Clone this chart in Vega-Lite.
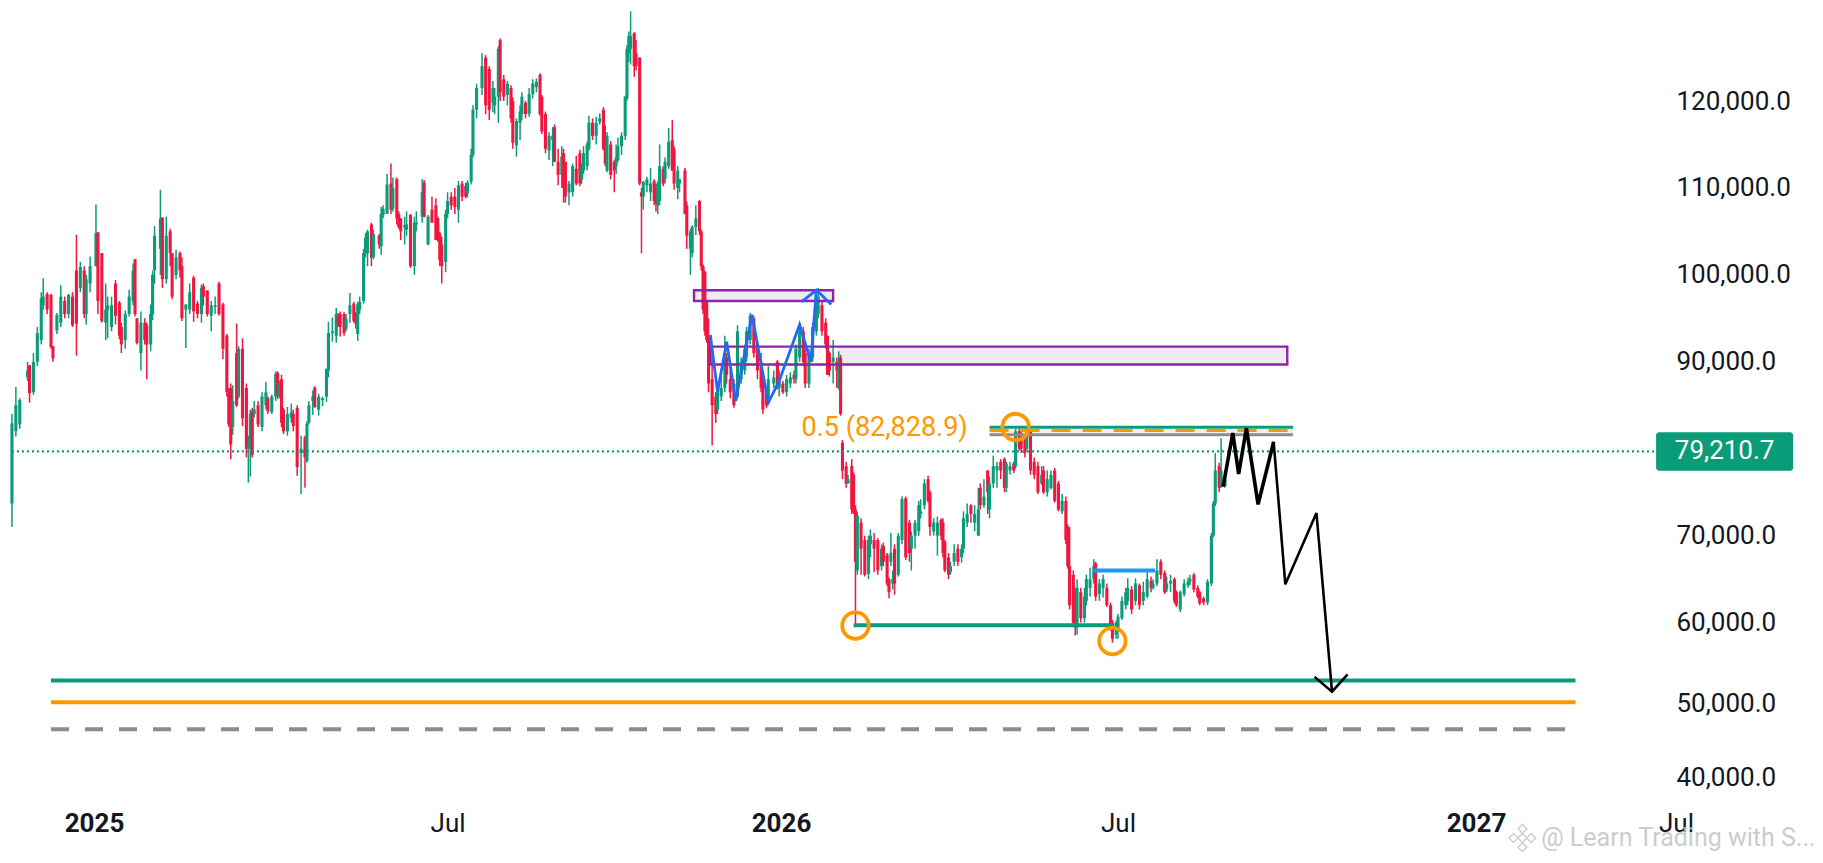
{
"$schema":"https://vega.github.io/schema/vega-lite/v6.json",
"width":1823,"height":863,"padding":0,"autosize":"none","background":"#ffffff",
"config":{"view":{"stroke":null},"text":{"font":"Roboto"},"axis":{"labelFont":"Roboto"}},
"datasets":{
"candles":[
{"t":"2024-11-20","o":73700,"h":84000,"l":71000,"c":82900},{"t":"2024-11-22","o":82000,"h":87100,"l":81400,"c":85000},{"t":"2024-11-24","o":82800,"h":85800,"l":82300,"c":85600},{"t":"2024-11-28","o":88200,"h":90000,"l":87800,"c":89000},{"t":"2024-11-29","o":89600,"h":89600,"l":85300,"c":86400},{"t":"2024-12-01","o":86500,"h":91000,"l":86200,"c":90000},{"t":"2024-12-03","o":90000,"h":94000,"l":89500,"c":93300},{"t":"2024-12-05","o":92500,"h":98000,"l":92000,"c":97300},{"t":"2024-12-06","o":96500,"h":99600,"l":96000,"c":97500},{"t":"2024-12-08","o":97800,"h":98000,"l":95500,"c":96000},{"t":"2024-12-10","o":97700,"h":97800,"l":91500,"c":91700},{"t":"2024-12-11","o":91800,"h":91800,"l":90000,"c":90400},{"t":"2024-12-13","o":93600,"h":95600,"l":93200,"c":95400},{"t":"2024-12-15","o":94500,"h":98800,"l":94000,"c":97500},{"t":"2024-12-17","o":97000,"h":97500,"l":95000,"c":95500},{"t":"2024-12-19","o":95500,"h":97800,"l":95000,"c":97700},{"t":"2024-12-21","o":97500,"h":98000,"l":94000,"c":94200},{"t":"2024-12-23","o":100500,"h":104600,"l":90700,"c":94400},{"t":"2024-12-25","o":98500,"h":101500,"l":98000,"c":100900},{"t":"2024-12-27","o":100500,"h":101000,"l":95000,"c":95500},{"t":"2024-12-28","o":95500,"h":100000,"l":94300,"c":99500},{"t":"2024-12-30","o":99000,"h":102100,"l":98000,"c":101000},{"t":"2025-01-02","o":101000,"h":108100,"l":101000,"c":104800},{"t":"2025-01-03","o":104900,"h":104900,"l":95500,"c":97000},{"t":"2025-01-05","o":102500,"h":102500,"l":94500,"c":94700},{"t":"2025-01-07","o":94500,"h":99000,"l":92500,"c":96000},{"t":"2025-01-08","o":96000,"h":97500,"l":92700,"c":96500},{"t":"2025-01-10","o":94000,"h":97500,"l":93500,"c":96500},{"t":"2025-01-12","o":99000,"h":99400,"l":94300,"c":95300},{"t":"2025-01-14","o":96800,"h":97000,"l":92600,"c":93000},{"t":"2025-01-15","o":94000,"h":94500,"l":91000,"c":92000},{"t":"2025-01-17","o":92500,"h":95900,"l":91500,"c":95500},{"t":"2025-01-19","o":95500,"h":98300,"l":95200,"c":97500},{"t":"2025-01-21","o":97000,"h":101300,"l":96500,"c":100500},{"t":"2025-01-22","o":101800,"h":101800,"l":95200,"c":95500},{"t":"2025-01-23","o":95000,"h":95000,"l":92000,"c":92200},{"t":"2025-01-25","o":91000,"h":95800,"l":89000,"c":94500},{"t":"2025-01-27","o":94500,"h":95000,"l":92000,"c":92500},{"t":"2025-01-28","o":94200,"h":94500,"l":88000,"c":92000},{"t":"2025-01-30","o":92000,"h":96600,"l":91200,"c":95500},{"t":"2025-01-31","o":95500,"h":100500,"l":94800,"c":100000},{"t":"2025-02-01","o":100500,"h":105600,"l":99000,"c":104500},{"t":"2025-02-04","o":103000,"h":109800,"l":100000,"c":106500},{"t":"2025-02-05","o":106600,"h":106600,"l":98500,"c":99500},{"t":"2025-02-07","o":99500,"h":106700,"l":99000,"c":104500},{"t":"2025-02-09","o":105000,"h":105300,"l":101000,"c":102500},{"t":"2025-02-10","o":102500,"h":102500,"l":97200,"c":97500},{"t":"2025-02-12","o":100000,"h":102900,"l":99500,"c":102000},{"t":"2025-02-14","o":102500,"h":102700,"l":99700,"c":100500},{"t":"2025-02-15","o":101000,"h":102000,"l":94700,"c":95000},{"t":"2025-02-17","o":96000,"h":96600,"l":91600,"c":96600},{"t":"2025-02-19","o":96000,"h":99000,"l":95500,"c":98000},{"t":"2025-02-21","o":99700,"h":99900,"l":94600,"c":95800},{"t":"2025-02-23","o":96700,"h":97000,"l":95000,"c":95500},{"t":"2025-02-25","o":95500,"h":98900,"l":94500,"c":98500},{"t":"2025-02-26","o":98700,"h":99000,"l":96500,"c":97500},{"t":"2025-02-28","o":98200,"h":98200,"l":95200,"c":95500},{"t":"2025-03-02","o":95300,"h":97000,"l":93500,"c":96500},{"t":"2025-03-04","o":96300,"h":97500,"l":95500,"c":96500},{"t":"2025-03-06","o":99000,"h":99200,"l":95300,"c":95500},{"t":"2025-03-08","o":96600,"h":96800,"l":90300,"c":91500},{"t":"2025-03-10","o":93000,"h":93200,"l":86000,"c":86500},{"t":"2025-03-11","o":86500,"h":87000,"l":82500,"c":82800},{"t":"2025-03-12","o":87000,"h":87500,"l":78800,"c":80500},{"t":"2025-03-13","o":82500,"h":87300,"l":81600,"c":85500},{"t":"2025-03-15","o":91000,"h":94400,"l":84800,"c":85000},{"t":"2025-03-16","o":86000,"h":91800,"l":85800,"c":91500},{"t":"2025-03-18","o":91500,"h":92700,"l":82600,"c":83500},{"t":"2025-03-20","o":87000,"h":87500,"l":79000,"c":80000},{"t":"2025-03-21","o":80000,"h":81500,"l":76100,"c":80500},{"t":"2025-03-22","o":80500,"h":84500,"l":76800,"c":84000},
{"t":"2025-03-23","o":84300,"h":84700,"l":79000,"c":79300},{"t":"2025-03-24","o":84000,"h":85500,"l":83600,"c":84500},{"t":"2025-03-26","o":85000,"h":85500,"l":82500,"c":82800},{"t":"2025-03-28","o":82500,"h":86500,"l":82000,"c":86000},{"t":"2025-03-30","o":85000,"h":87700,"l":84500,"c":86500},{"t":"2025-03-31","o":85800,"h":86000,"l":84000,"c":84300},{"t":"2025-04-02","o":84200,"h":86200,"l":84000,"c":86000},{"t":"2025-04-04","o":86000,"h":88900,"l":85500,"c":88600},{"t":"2025-04-05","o":88700,"h":88900,"l":85700,"c":86300},{"t":"2025-04-06","o":86000,"h":87800,"l":85800,"c":87600},{"t":"2025-04-07","o":88000,"h":88500,"l":82500,"c":83000},{"t":"2025-04-08","o":84500,"h":84700,"l":81700,"c":82000},{"t":"2025-04-10","o":82000,"h":84800,"l":81500,"c":84000},{"t":"2025-04-12","o":83500,"h":85200,"l":83000,"c":84200},{"t":"2025-04-13","o":84000,"h":84500,"l":82000,"c":82600},{"t":"2025-04-15","o":84700,"h":85000,"l":76900,"c":77900},{"t":"2025-04-17","o":79500,"h":81500,"l":74800,"c":80000},{"t":"2025-04-19","o":81300,"h":81500,"l":75500,"c":79000},{"t":"2025-04-20","o":78600,"h":83200,"l":78400,"c":82900},{"t":"2025-04-21","o":83000,"h":85500,"l":82800,"c":85000},{"t":"2025-04-23","o":85500,"h":86700,"l":83900,"c":86000},{"t":"2025-04-24","o":87000,"h":87200,"l":84700,"c":84800},{"t":"2025-04-26","o":84500,"h":86300,"l":83800,"c":86000},{"t":"2025-04-28","o":85600,"h":86000,"l":84900,"c":85800},{"t":"2025-04-30","o":86000,"h":89200,"l":85400,"c":89200},{"t":"2025-05-01","o":89000,"h":94600,"l":88200,"c":93300},{"t":"2025-05-03","o":93300,"h":95100,"l":92300,"c":93500},{"t":"2025-05-05","o":93000,"h":96200,"l":92200,"c":95500},{"t":"2025-05-06","o":95200,"h":95600,"l":94000,"c":94300},{"t":"2025-05-07","o":95500,"h":95800,"l":92900,"c":94000},{"t":"2025-05-09","o":95500,"h":95700,"l":93000,"c":93300},{"t":"2025-05-10","o":93800,"h":95500,"l":93500,"c":95000},{"t":"2025-05-12","o":95500,"h":97900,"l":94500,"c":96500},{"t":"2025-05-14","o":96700,"h":96900,"l":94500,"c":94700},{"t":"2025-05-15","o":95500,"h":95700,"l":93800,"c":94400},{"t":"2025-05-16","o":93200,"h":96900,"l":92400,"c":96600},{"t":"2025-05-17","o":96000,"h":97500,"l":95500,"c":96900},{"t":"2025-05-19","o":97000,"h":103000,"l":96700,"c":102500},{"t":"2025-05-20","o":102500,"h":104800,"l":102000,"c":104300},{"t":"2025-05-21","o":102500,"h":105200,"l":101000,"c":105000},{"t":"2025-05-23","o":105800,"h":106000,"l":101000,"c":102000},{"t":"2025-05-24","o":102000,"h":105200,"l":101800,"c":104700},{"t":"2025-05-27","o":104500,"h":104700,"l":103000,"c":103500},{"t":"2025-05-28","o":103300,"h":107800,"l":102300,"c":107000},{"t":"2025-05-29","o":106900,"h":108000,"l":106500,"c":107600},{"t":"2025-05-31","o":107000,"h":111600,"l":107000,"c":110400},{"t":"2025-06-02","o":110500,"h":112800,"l":107000,"c":107500},{"t":"2025-06-03","o":107600,"h":111200,"l":107300,"c":110000},{"t":"2025-06-05","o":111000,"h":111200,"l":105800,"c":106500},{"t":"2025-06-06","o":107000,"h":107300,"l":105300,"c":105500},{"t":"2025-06-07","o":106500,"h":106500,"l":104000,"c":105000},{"t":"2025-06-09","o":105500,"h":106700,"l":103500,"c":105700},{"t":"2025-06-10","o":105200,"h":107300,"l":104500,"c":105800},{"t":"2025-06-12","o":106900,"h":107000,"l":100800,"c":101000},{"t":"2025-06-14","o":101000,"h":106700,"l":100000,"c":106000},{"t":"2025-06-15","o":105800,"h":107300,"l":105000,"c":106000},{"t":"2025-06-18","o":106700,"h":111000,"l":106000,"c":109500},{"t":"2025-06-19","o":110600,"h":110900,"l":106600,"c":106700},{"t":"2025-06-21","o":103500,"h":106900,"l":103400,"c":106700},{"t":"2025-06-23","o":107500,"h":109000,"l":106000,"c":106000},{"t":"2025-06-25","o":108000,"h":108800,"l":104000,"c":104000},{"t":"2025-06-26","o":106500,"h":106700,"l":103800,"c":104000},{"t":"2025-06-27","o":104800,"h":104900,"l":101000,"c":101700},{"t":"2025-06-28","o":103500,"h":104400,"l":99000,"c":101000},{"t":"2025-06-30","o":101500,"h":107500,"l":100300,"c":107000},{"t":"2025-07-01","o":107000,"h":109500,"l":106500,"c":108500},{"t":"2025-07-03","o":109000,"h":109500,"l":107500,"c":108000},{"t":"2025-07-05","o":109000,"h":110000,"l":107000,"c":107800},{"t":"2025-07-07","o":107500,"h":110800,"l":106000,"c":110300},{"t":"2025-07-09","o":110500,"h":110800,"l":108500,"c":109000},{"t":"2025-07-11","o":110200,"h":110600,"l":108800,"c":109000},{"t":"2025-07-12","o":109400,"h":110900,"l":108900,"c":110600},{"t":"2025-07-14","o":110700,"h":114500,"l":110400,"c":113800},{"t":"2025-07-15","o":113800,"h":119500,"l":113500,"c":119000},{"t":"2025-07-17","o":119000,"h":122000,"l":118000,"c":121500},
{"t":"2025-07-20","o":121500,"h":125500,"l":120700,"c":124000},{"t":"2025-07-22","o":125000,"h":125300,"l":118500,"c":119500},{"t":"2025-07-24","o":123700,"h":124000,"l":117800,"c":119000},{"t":"2025-07-26","o":119800,"h":122300,"l":118700,"c":121500},{"t":"2025-07-27","o":119500,"h":121500,"l":118500,"c":120500},{"t":"2025-07-29","o":120500,"h":126300,"l":117500,"c":126000},{"t":"2025-07-30","o":127000,"h":127200,"l":120000,"c":121000},{"t":"2025-08-01","o":122500,"h":123000,"l":120000,"c":120500},{"t":"2025-08-03","o":120700,"h":122300,"l":119500,"c":122000},{"t":"2025-08-05","o":121500,"h":121800,"l":117500,"c":118000},{"t":"2025-08-06","o":120000,"h":120400,"l":114500,"c":115200},{"t":"2025-08-08","o":114900,"h":118000,"l":113600,"c":117700},{"t":"2025-08-10","o":117500,"h":119500,"l":115500,"c":118800},{"t":"2025-08-11","o":118500,"h":121000,"l":117800,"c":120500},{"t":"2025-08-13","o":119800,"h":120000,"l":118000,"c":118500},{"t":"2025-08-15","o":118500,"h":121500,"l":118200,"c":120800},{"t":"2025-08-17","o":120800,"h":122500,"l":120300,"c":122000},{"t":"2025-08-19","o":121600,"h":122600,"l":121000,"c":122200},{"t":"2025-08-21","o":123000,"h":123200,"l":118300,"c":118500},{"t":"2025-08-22","o":120500,"h":120700,"l":116200,"c":116500},{"t":"2025-08-24","o":118500,"h":118800,"l":114000,"c":114500},{"t":"2025-08-26","o":114300,"h":116400,"l":113200,"c":116000},{"t":"2025-08-28","o":115500,"h":117000,"l":112500,"c":116000},{"t":"2025-08-29","o":117000,"h":117300,"l":113000,"c":113000},{"t":"2025-08-31","o":113000,"h":114500,"l":110300,"c":111500},{"t":"2025-09-02","o":111500,"h":114800,"l":110000,"c":113600},{"t":"2025-09-03","o":114000,"h":114500,"l":108300,"c":110000},{"t":"2025-09-04","o":113000,"h":113000,"l":108300,"c":109000},{"t":"2025-09-06","o":109500,"h":110800,"l":108000,"c":110500},{"t":"2025-09-08","o":109500,"h":112800,"l":109000,"c":112500},{"t":"2025-09-10","o":112200,"h":113700,"l":110300,"c":110500},{"t":"2025-09-12","o":114000,"h":114400,"l":110200,"c":110500},{"t":"2025-09-13","o":111000,"h":112800,"l":110500,"c":112500},{"t":"2025-09-14","o":112000,"h":114800,"l":111600,"c":114000},{"t":"2025-09-16","o":112500,"h":115300,"l":112000,"c":115000},{"t":"2025-09-17","o":114500,"h":118300,"l":114300,"c":117500},{"t":"2025-09-19","o":117500,"h":118000,"l":115500,"c":116000},{"t":"2025-09-21","o":116000,"h":118200,"l":115000,"c":117500},{"t":"2025-09-23","o":117600,"h":118600,"l":117300,"c":118000},{"t":"2025-09-25","o":119000,"h":119300,"l":114300,"c":114500},{"t":"2025-09-26","o":115500,"h":117200,"l":112500,"c":112800},{"t":"2025-09-27","o":112000,"h":116400,"l":111800,"c":116000},{"t":"2025-09-29","o":115000,"h":115400,"l":111000,"c":111500},{"t":"2025-10-01","o":113000,"h":113200,"l":109500,"c":112000},{"t":"2025-10-02","o":112500,"h":115000,"l":111600,"c":113500},{"t":"2025-10-03","o":113200,"h":115800,"l":113000,"c":114800},{"t":"2025-10-05","o":114800,"h":116400,"l":113800,"c":116000},{"t":"2025-10-07","o":116000,"h":120600,"l":115500,"c":120500},{"t":"2025-10-08","o":120300,"h":126400,"l":120000,"c":126000},{"t":"2025-10-09","o":125500,"h":128000,"l":124500,"c":127500},{"t":"2025-10-10","o":126000,"h":130300,"l":124200,"c":127500},{"t":"2025-10-12","o":127800,"h":127900,"l":122800,"c":124000},{"t":"2025-10-13","o":125500,"h":127000,"l":123500,"c":124000},{"t":"2025-10-15","o":125000,"h":125000,"l":110300,"c":110500},{"t":"2025-10-16","o":109500,"h":110000,"l":102500,"c":109000},{"t":"2025-10-17","o":109000,"h":110800,"l":107500,"c":110700},{"t":"2025-10-19","o":110300,"h":111300,"l":109500,"c":111000},{"t":"2025-10-21","o":109500,"h":112300,"l":108500,"c":110500},{"t":"2025-10-23","o":110800,"h":111000,"l":108000,"c":108500},{"t":"2025-10-24","o":110000,"h":110500,"l":107300,"c":108200},{"t":"2025-10-25","o":108000,"h":110800,"l":107000,"c":110500},{"t":"2025-10-26","o":108500,"h":115000,"l":108000,"c":112500},{"t":"2025-10-28","o":112200,"h":112500,"l":110200,"c":110500},{"t":"2025-10-29","o":111000,"h":113500,"l":110500,"c":113000},{"t":"2025-10-31","o":112500,"h":116900,"l":112200,"c":115300},{"t":"2025-11-02","o":115500,"h":117800,"l":112000,"c":112000},{"t":"2025-11-03","o":114500,"h":114800,"l":109800,"c":110500},{"t":"2025-11-05","o":110000,"h":112500,"l":108700,"c":112000},{"t":"2025-11-06","o":110500,"h":111000,"l":109500,"c":111000},{"t":"2025-11-09","o":112000,"h":112300,"l":107000,"c":107000},{"t":"2025-11-10","o":108000,"h":108400,"l":103000,"c":104500},{"t":"2025-11-12","o":103000,"h":105300,"l":100000,"c":105000},{"t":"2025-11-13","o":102500,"h":105700,"l":102000,"c":105500},{"t":"2025-11-15","o":105500,"h":108000,"l":104600,"c":106500},{"t":"2025-11-17","o":108500,"h":108600,"l":104600,"c":105000},{"t":"2025-11-18","o":105000,"h":105200,"l":100500,"c":101000},{"t":"2025-11-19","o":101000,"h":101200,"l":95500,"c":96000},{"t":"2025-11-20","o":100300,"h":100500,"l":93000,"c":93500},{"t":"2025-11-21","o":97000,"h":97000,"l":92200,"c":92500},{"t":"2025-11-22","o":93000,"h":95000,"l":86500,"c":87500},
{"t":"2025-11-24","o":88000,"h":91000,"l":80400,"c":85000},{"t":"2025-11-26","o":86000,"h":86500,"l":83000,"c":84000},{"t":"2025-11-27","o":84500,"h":87500,"l":84000,"c":87000},{"t":"2025-11-29","o":86000,"h":89000,"l":85500,"c":87000},{"t":"2025-12-01","o":87000,"h":93000,"l":86500,"c":91000},{"t":"2025-12-02","o":90500,"h":91000,"l":87500,"c":88500},{"t":"2025-12-04","o":88000,"h":89000,"l":85800,"c":86500},{"t":"2025-12-06","o":87500,"h":88000,"l":84700,"c":85000},{"t":"2025-12-08","o":86000,"h":94200,"l":85800,"c":93500},{"t":"2025-12-10","o":88000,"h":90500,"l":87500,"c":90000},{"t":"2025-12-12","o":89000,"h":92000,"l":88500,"c":91500},{"t":"2025-12-13","o":90500,"h":94000,"l":90000,"c":93500},{"t":"2025-12-15","o":92500,"h":95600,"l":92000,"c":95300},{"t":"2025-12-17","o":95000,"h":95200,"l":90500,"c":91000},{"t":"2025-12-19","o":92000,"h":92200,"l":88000,"c":89000},{"t":"2025-12-21","o":90000,"h":91000,"l":86500,"c":87000},{"t":"2025-12-22","o":88000,"h":88300,"l":84000,"c":84500},{"t":"2025-12-24","o":86500,"h":86800,"l":84700,"c":85000},{"t":"2025-12-25","o":85500,"h":89500,"l":85200,"c":88000},{"t":"2025-12-28","o":87500,"h":89000,"l":87000,"c":88200},{"t":"2025-12-30","o":90000,"h":90200,"l":86800,"c":87200},{"t":"2025-12-31","o":87000,"h":89000,"l":86000,"c":88000},{"t":"2026-01-02","o":87500,"h":87800,"l":86300,"c":86500},{"t":"2026-01-04","o":86500,"h":88500,"l":86000,"c":88000},{"t":"2026-01-06","o":87500,"h":88800,"l":87000,"c":88200},{"t":"2026-01-08","o":88500,"h":89000,"l":87500,"c":88000},{"t":"2026-01-09","o":88000,"h":92000,"l":87500,"c":91500},{"t":"2026-01-11","o":90500,"h":94000,"l":90000,"c":93500},{"t":"2026-01-13","o":93500,"h":94000,"l":89500,"c":90000},{"t":"2026-01-14","o":91000,"h":91500,"l":87000,"c":87500},{"t":"2026-01-16","o":87500,"h":91500,"l":87000,"c":91000},{"t":"2026-01-18","o":90500,"h":94500,"l":90000,"c":94000},{"t":"2026-01-20","o":93500,"h":97500,"l":93000,"c":96000},{"t":"2026-01-21","o":95500,"h":98500,"l":95000,"c":97500},{"t":"2026-01-23","o":96500,"h":97000,"l":93000,"c":93500},{"t":"2026-01-25","o":94500,"h":95000,"l":91500,"c":92000},{"t":"2026-01-26","o":93000,"h":93000,"l":88500,"c":88500},{"t":"2026-01-27","o":91000,"h":91200,"l":88300,"c":89000},{"t":"2026-01-29","o":90000,"h":92500,"l":87500,"c":90500},{"t":"2026-01-31","o":90000,"h":90500,"l":87000,"c":89000},{"t":"2026-02-01","o":87000,"h":91200,"l":86800,"c":90000},{"t":"2026-02-02","o":90500,"h":90800,"l":83800,"c":84000},
{"t":"2026-02-03","o":80700,"h":81000,"l":76500,"c":77500},{"t":"2026-02-05","o":78000,"h":78500,"l":75500,"c":76000},{"t":"2026-02-06","o":76000,"h":77000,"l":76000,"c":76500},{"t":"2026-02-08","o":78000,"h":78800,"l":72500,"c":73000},{"t":"2026-02-09","o":77000,"h":77300,"l":72500,"c":72700},{"t":"2026-02-10","o":73000,"h":73500,"l":59800,"c":67000},{"t":"2026-02-11","o":66000,"h":72700,"l":65500,"c":72300},{"t":"2026-02-13","o":71500,"h":72000,"l":65500,"c":68500},{"t":"2026-02-15","o":69500,"h":70000,"l":65300,"c":65500},{"t":"2026-02-17","o":65600,"h":70000,"l":65000,"c":69500},{"t":"2026-02-18","o":69000,"h":70700,"l":67500,"c":70000},{"t":"2026-02-20","o":69500,"h":70300,"l":65800,"c":68500},{"t":"2026-02-22","o":69500,"h":69700,"l":65500,"c":66000},{"t":"2026-02-24","o":66500,"h":69000,"l":66000,"c":68500},{"t":"2026-02-25","o":68800,"h":69200,"l":66500,"c":67000},{"t":"2026-02-27","o":67800,"h":68000,"l":64200,"c":64500},{"t":"2026-02-28","o":65000,"h":65200,"l":62800,"c":63500},{"t":"2026-03-01","o":67000,"h":70300,"l":66500,"c":68000},{"t":"2026-03-02","o":64500,"h":66000,"l":63800,"c":65000},{"t":"2026-03-03","o":68500,"h":69000,"l":63200,"c":64500},{"t":"2026-03-05","o":65500,"h":70300,"l":65300,"c":70000},{"t":"2026-03-07","o":69500,"h":74500,"l":69000,"c":74200},{"t":"2026-03-09","o":74300,"h":74500,"l":67200,"c":67500},{"t":"2026-03-11","o":71500,"h":71800,"l":67000,"c":68000},{"t":"2026-03-12","o":68500,"h":70500,"l":66000,"c":70000},{"t":"2026-03-14","o":70000,"h":71800,"l":68500,"c":71500},{"t":"2026-03-16","o":70500,"h":74000,"l":70000,"c":73500},{"t":"2026-03-17","o":72500,"h":74200,"l":72000,"c":72800},{"t":"2026-03-19","o":73500,"h":76500,"l":73000,"c":76000},{"t":"2026-03-21","o":76500,"h":76900,"l":73800,"c":74000},{"t":"2026-03-22","o":75000,"h":75200,"l":70000,"c":71000},{"t":"2026-03-24","o":70500,"h":72000,"l":70000,"c":71500},{"t":"2026-03-26","o":70000,"h":72200,"l":67700,"c":71500},{"t":"2026-03-28","o":71800,"h":72000,"l":69500,"c":70000},{"t":"2026-03-29","o":71500,"h":72000,"l":67500,"c":68000},{"t":"2026-03-30","o":69300,"h":69500,"l":65800,"c":66000},{"t":"2026-04-01","o":67500,"h":68000,"l":65000,"c":65500},{"t":"2026-04-02","o":65800,"h":67000,"l":65500,"c":66500},{"t":"2026-04-04","o":67000,"h":69000,"l":66500,"c":68000},{"t":"2026-04-06","o":68500,"h":69000,"l":66500,"c":67000},{"t":"2026-04-08","o":67500,"h":69000,"l":66900,"c":68500},{"t":"2026-04-09","o":68500,"h":72800,"l":68000,"c":72000},{"t":"2026-04-11","o":71500,"h":73700,"l":71000,"c":72500},{"t":"2026-04-13","o":73500,"h":73600,"l":71500,"c":72500},{"t":"2026-04-15","o":71500,"h":73500,"l":70500,"c":72500},{"t":"2026-04-17","o":70000,"h":75500,"l":70000,"c":73000},{"t":"2026-04-18","o":75500,"h":76000,"l":73000,"c":73500},{"t":"2026-04-20","o":73500,"h":76500,"l":73200,"c":74500},{"t":"2026-04-22","o":77500,"h":77500,"l":72500,"c":75000},{"t":"2026-04-23","o":73000,"h":76800,"l":72000,"c":76000},{"t":"2026-04-25","o":76000,"h":79200,"l":75500,"c":78000},{"t":"2026-04-27","o":77500,"h":78500,"l":75500,"c":78000},{"t":"2026-04-29","o":78500,"h":78800,"l":76500,"c":77500},{"t":"2026-05-01","o":78800,"h":79000,"l":75000,"c":75500},{"t":"2026-05-02","o":75500,"h":78500,"l":75000,"c":78300},{"t":"2026-05-04","o":77500,"h":78500,"l":77000,"c":78000},{"t":"2026-05-06","o":78300,"h":78500,"l":77200,"c":77500},{"t":"2026-05-07","o":78000,"h":82300,"l":77700,"c":82000},{"t":"2026-05-09","o":82000,"h":82300,"l":79800,"c":80000},{"t":"2026-05-10","o":81500,"h":82000,"l":79500,"c":80000},{"t":"2026-05-12","o":81000,"h":81300,"l":79000,"c":79500},{"t":"2026-05-13","o":80000,"h":82500,"l":79800,"c":82000},{"t":"2026-05-15","o":82200,"h":82300,"l":77000,"c":77500},{"t":"2026-05-17","o":78500,"h":79000,"l":76500,"c":77000},{"t":"2026-05-19","o":78000,"h":78500,"l":74800,"c":75000},{"t":"2026-05-21","o":76000,"h":78000,"l":75800,"c":77000},{"t":"2026-05-22","o":77500,"h":78000,"l":74800,"c":75000},{"t":"2026-05-24","o":75000,"h":77500,"l":74500,"c":76500},{"t":"2026-05-26","o":75500,"h":77500,"l":75300,"c":77000},{"t":"2026-05-28","o":77500,"h":77800,"l":73800,"c":74000},{"t":"2026-05-30","o":76000,"h":76300,"l":72800,"c":73000},{"t":"2026-06-01","o":72800,"h":74800,"l":72500,"c":74000},{"t":"2026-06-03","o":74000,"h":74500,"l":69000,"c":69500},
{"t":"2026-06-04","o":71000,"h":71300,"l":66200,"c":66500},{"t":"2026-06-05","o":66500,"h":71000,"l":61500,"c":62000},{"t":"2026-06-07","o":65500,"h":66000,"l":59500,"c":60000},{"t":"2026-06-08","o":63500,"h":64000,"l":58400,"c":59400},{"t":"2026-06-09","o":59500,"h":65000,"l":58500,"c":64000},{"t":"2026-06-11","o":63500,"h":64000,"l":60000,"c":60500},{"t":"2026-06-13","o":60500,"h":64000,"l":60000,"c":63000},{"t":"2026-06-14","o":62500,"h":65500,"l":62000,"c":65000},{"t":"2026-06-16","o":64000,"h":66300,"l":63000,"c":65000},{"t":"2026-06-18","o":65000,"h":67300,"l":64500,"c":66500},{"t":"2026-06-19","o":66800,"h":67000,"l":62500,"c":63000},{"t":"2026-06-21","o":63300,"h":65000,"l":62500,"c":64500},{"t":"2026-06-23","o":64000,"h":65500,"l":62900,"c":65000},{"t":"2026-06-25","o":64000,"h":64500,"l":61800,"c":62000},{"t":"2026-06-27","o":62000,"h":62300,"l":59000,"c":59500},{"t":"2026-06-28","o":60000,"h":60300,"l":57500,"c":58000},{"t":"2026-06-30","o":58500,"h":60200,"l":58000,"c":60000},{"t":"2026-07-01","o":59000,"h":61000,"l":58000,"c":60700},{"t":"2026-07-03","o":60500,"h":63000,"l":60300,"c":62500},{"t":"2026-07-05","o":62000,"h":64000,"l":61500,"c":63500},{"t":"2026-07-06","o":62500,"h":65100,"l":62000,"c":64000},{"t":"2026-07-08","o":63800,"h":64200,"l":61000,"c":61500},{"t":"2026-07-10","o":62500,"h":65100,"l":62000,"c":64500},{"t":"2026-07-12","o":64300,"h":64500,"l":61500,"c":62000},{"t":"2026-07-14","o":62500,"h":64700,"l":62000,"c":63500},{"t":"2026-07-16","o":63000,"h":65800,"l":62800,"c":65000},{"t":"2026-07-18","o":64800,"h":65300,"l":63500,"c":64000},{"t":"2026-07-19","o":64000,"h":65000,"l":63800,"c":64500},{"t":"2026-07-21","o":64500,"h":67300,"l":64200,"c":66000},{"t":"2026-07-23","o":67000,"h":67300,"l":65000,"c":65500},{"t":"2026-07-25","o":65700,"h":66000,"l":63300,"c":63500},{"t":"2026-07-26","o":63800,"h":65300,"l":63500,"c":64500},{"t":"2026-07-28","o":64500,"h":65500,"l":63500,"c":64800},{"t":"2026-07-30","o":65000,"h":65200,"l":62200,"c":62500},{"t":"2026-07-31","o":63500,"h":63700,"l":61800,"c":62000},{"t":"2026-08-02","o":61500,"h":63700,"l":61200,"c":63500},{"t":"2026-08-04","o":63300,"h":65000,"l":63000,"c":64500},{"t":"2026-08-06","o":64300,"h":65200,"l":64000,"c":64700},{"t":"2026-08-07","o":64700,"h":65500,"l":64300,"c":65000},{"t":"2026-08-09","o":65500,"h":65700,"l":63500,"c":63800},{"t":"2026-08-11","o":64000,"h":64300,"l":62800,"c":63000},{"t":"2026-08-12","o":63500,"h":63700,"l":62000,"c":62200},{"t":"2026-08-14","o":62800,"h":63000,"l":62000,"c":62300},{"t":"2026-08-16","o":62300,"h":65000,"l":62000,"c":64700},{"t":"2026-08-18","o":64500,"h":70300,"l":64200,"c":70000},{"t":"2026-08-19","o":70000,"h":74000,"l":69800,"c":73700},{"t":"2026-08-20","o":73700,"h":79500,"l":73400,"c":77500},{"t":"2026-08-22","o":78000,"h":78400,"l":75000,"c":75500},{"t":"2026-08-23","o":75700,"h":81200,"l":75500,"c":77500},{"t":"2026-08-25","o":75700,"h":77000,"l":75500,"c":76500}
],
"levels":[
{"kind":"support","t":"2024-12-10","t2":"2027-04-01","p":52800},
{"kind":"target","t":"2024-12-10","t2":"2027-04-01","p":50090},
{"kind":"stop","t":"2024-12-10","t2":"2027-04-01","p":46450},
{"kind":"range low","t":"2026-02-09","t2":"2026-06-29","p":59670},
{"kind":"range high","t":"2026-06-18","t2":"2026-07-20","p":66000}
],
"topLevels":[
{"kind":"fib top","t":"2026-04-23","t2":"2026-09-29","p":82460},
{"kind":"fib mid","t":"2026-04-23","t2":"2026-09-29","p":82100},
{"kind":"fib low","t":"2026-04-23","t2":"2026-09-29","p":81600},
{"kind":"last","t":"2024-11-20","t2":"2027-06-12","p":79700}
],
"zones":[
{"kind":"upper","t":"2025-11-14","t2":"2026-01-29","p":98230,"p2":97000},
{"kind":"lower","t":"2026-01-31","t2":"2026-09-26","p":91750,"p2":89690},
{"kind":"fib","t":"2026-04-23","t2":"2026-09-29","p":82300,"p2":81700}
],
"boxes":[
{"t":"2025-11-14","t2":"2026-01-29","p":98230,"p2":97000},
{"t":"2025-11-23","t2":"2026-09-26","p":91750,"p2":89690}
],
"paths":[
{"kind":"blue","part":"zig","t":"2025-11-23","p":93080},{"kind":"blue","part":"zig","t":"2025-11-27","p":86560},{"kind":"blue","part":"zig","t":"2025-12-02","p":92300},{"kind":"blue","part":"zig","t":"2025-12-07","p":85500},{"kind":"blue","part":"zig","t":"2025-12-16","p":95400},{"kind":"blue","part":"zig","t":"2025-12-25","p":85300},{"kind":"blue","part":"zig","t":"2025-12-31","p":87800},{"kind":"blue","part":"zig","t":"2026-01-11","p":94300},{"kind":"blue","part":"zig","t":"2026-01-17","p":90000},{"kind":"blue","part":"zig","t":"2026-01-20","p":98250},
{"kind":"blue","part":"head","t":"2026-01-12","p":96900},{"kind":"blue","part":"head","t":"2026-01-20","p":98250},{"kind":"blue","part":"head","t":"2026-01-28","p":96600},
{"kind":"black","part":"zig","t":"2026-08-24","p":75630},{"kind":"black","part":"zig","t":"2026-08-29","p":81800},{"kind":"black","part":"zig","t":"2026-09-01","p":77100},{"kind":"black","part":"zig","t":"2026-09-05","p":82350},{"kind":"black","part":"zig","t":"2026-09-11","p":73600},{"kind":"black","part":"zig","t":"2026-09-19","p":80800},
{"kind":"thin","part":"zig","t":"2026-09-19","p":80800},{"kind":"thin","part":"zig","t":"2026-09-25","p":64400},{"kind":"thin","part":"zig","t":"2026-10-11","p":72600},{"kind":"thin","part":"zig","t":"2026-10-19","p":51400},
{"kind":"thin","part":"head","t":"2026-10-10","p":53250},{"kind":"thin","part":"head","t":"2026-10-19","p":51400},{"kind":"thin","part":"head","t":"2026-10-27","p":53550}
],
"circles":[
{"t":"2026-02-10","p":59630},{"t":"2026-06-28","p":57700},{"t":"2026-05-07","p":82500}
],
"tag":[{"t":"2027-06-13","t2":"2027-10-15","p":81900,"p2":77470}],
"tagText":[{"t":"2027-08-14","p":79700,"label":"79,210.7"}],
"fibText":[{"t":"2026-01-12","p":82400,"label":"0.5 (82,828.9)"}],
"mark":[{"t":"2027-03-01","p":31760,"label":"@ Learn Trading with S..."}],
"logo":[{"t":"2027-02-12","p":31760},{"t":"2027-02-04","p":31760},{"t":"2027-02-20","p":31760},{"t":"2027-02-12","p":33000},{"t":"2027-02-12","p":30500}]
},
"encoding":{
"x":{"field":"t","type":"temporal","title":null,
"scale":{"domain":{"expr":"[1735689600000,1751328000000,1767225600000,1782864000000,1798761600000,1814400000000]"},"range":[94,447.6,781,1118,1476,1676],"nice":false,"padding":0},
"axis":{"orient":"bottom","offset":-40,"domain":false,"ticks":false,"grid":false,"labelPadding":0,"labelBaseline":"middle","labelFontSize":26,"labelColor":"#131722","labelOverlap":false,"labelFlush":false,
"values":[{"year":2025,"month":1,"date":1},{"year":2025,"month":7,"date":1},{"year":2026,"month":1,"date":1},{"year":2026,"month":7,"date":1},{"year":2027,"month":1,"date":1},{"year":2027,"month":7,"date":1}],
"labelExpr":"month(datum.value)==0?timeFormat(datum.value,'%Y'):timeFormat(datum.value,'%b')",
"labelFontWeight":{"condition":{"test":"month(datum.value)==0","value":"bold"},"value":"normal"}}},
"y":{"field":"p","type":"quantitative","title":null,
"scale":{"domain":[40000,50000,60000,120000],"range":[777,703,622.6,101],"nice":false,"zero":false},
"axis":{"orient":"right","offset":-147,"domain":false,"ticks":false,"grid":false,"labelPadding":0,"labelFontSize":26,"labelColor":"#131722","format":",.1f","labelOverlap":false,"labelFlush":false,"values":[40000,50000,60000,70000,90000,100000,110000,120000]}}
},
"layer":[
{"data":{"name":"zones"},"mark":{"type":"rect"},"encoding":{"x2":{"field":"t2"},"y2":{"field":"p2"},"color":{"field":"kind","type":"nominal","legend":null,"scale":{"domain":["upper","lower","fib"],"range":["#efe9f2","#efe9f2","#fbeee2"]}}}},
{"data":{"name":"candles"},"mark":{"type":"rule","strokeWidth":1.5},"encoding":{
"y":{"field":"l","type":"quantitative","title":null,"axis":{"orient":"right","offset":-147,"domain":false,"ticks":false,"grid":false,"labelPadding":0,"labelFontSize":26,"labelColor":"#131722","format":",.1f","labelOverlap":false,"labelFlush":false,"values":[40000,50000,60000,70000,90000,100000,110000,120000]},"scale":{"domain":[40000,50000,60000,120000],"range":[777,703,622.6,101],"nice":false,"zero":false}},"y2":{"field":"h"},
"stroke":{"condition":{"test":"datum.c>=datum.o","value":"#0a9c78"},"value":"#f2153f"}}},
{"data":{"name":"candles"},"mark":{"type":"bar","size":3.1},"encoding":{
"y":{"field":"o","type":"quantitative","title":null,"axis":{"orient":"right","offset":-147,"domain":false,"ticks":false,"grid":false,"labelPadding":0,"labelFontSize":26,"labelColor":"#131722","format":",.1f","labelOverlap":false,"labelFlush":false,"values":[40000,50000,60000,70000,90000,100000,110000,120000]},"scale":{"domain":[40000,50000,60000,120000],"range":[777,703,622.6,101],"nice":false,"zero":false}},"y2":{"field":"c"},
"fill":{"condition":{"test":"datum.c>=datum.o","value":"#0a9c78"},"value":"#f2153f"}}},
{"data":{"name":"levels"},"mark":{"type":"rule","strokeWidth":4},"encoding":{"x2":{"field":"t2"},
"stroke":{"field":"kind","type":"nominal","legend":null,"scale":{"domain":["support","target","stop","range low","range high","fib top","fib mid","fib low"],"range":["#0a9c78","#ff9800","#8c8c8c","#0a9c78","#2196f3","#0a9c78","#ff9800","#8c8c8c"]}},
"strokeDash":{"field":"kind","type":"nominal","legend":null,"scale":{"domain":["support","target","stop","range low","range high","fib top","fib mid","fib low"],"range":[[1,0],[1,0],[18,16],[1,0],[1,0],[1,0],[19,12],[1,0]]}}}},
{"data":{"name":"topLevels"},"transform":[{"filter":"datum.kind!='last'"}],"mark":{"type":"rule","strokeWidth":3},"encoding":{"x2":{"field":"t2"},
"stroke":{"field":"kind","type":"nominal","legend":null,"scale":{"domain":["support","target","stop","range low","range high","fib top","fib mid","fib low"],"range":["#0a9c78","#ff9800","#8c8c8c","#0a9c78","#2196f3","#0a9c78","#ff9800","#8c8c8c"]}},
"strokeDash":{"field":"kind","type":"nominal","legend":null,"scale":{"domain":["support","target","stop","range low","range high","fib top","fib mid","fib low"],"range":[[1,0],[1,0],[18,16],[1,0],[1,0],[1,0],[19,12],[1,0]]}}}},
{"data":{"name":"topLevels"},"transform":[{"filter":"datum.kind=='last'"}],"mark":{"type":"rule","strokeWidth":2.2,"strokeDash":[2,3],"color":"#0a9c78"},"encoding":{"x2":{"field":"t2"}}},
{"data":{"name":"boxes"},"mark":{"type":"rect","fillOpacity":0,"stroke":"#8e24aa","strokeWidth":2.4},"encoding":{"x2":{"field":"t2"},"y2":{"field":"p2"}}},
{"data":{"name":"paths"},"transform":[{"filter":"datum.kind=='blue'"}],"mark":{"type":"line","color":"#2468f2","strokeWidth":2.8},"encoding":{"detail":{"field":"part"}}},
{"data":{"name":"paths"},"transform":[{"filter":"datum.kind=='black'"}],"mark":{"type":"line","color":"#000000","strokeWidth":3.6},"encoding":{"detail":{"field":"part"}}},
{"data":{"name":"paths"},"transform":[{"filter":"datum.kind=='thin'"}],"mark":{"type":"line","color":"#000000","strokeWidth":2.6},"encoding":{"detail":{"field":"part"}}},
{"data":{"name":"circles"},"mark":{"type":"point","shape":"circle","filled":false,"size":700,"strokeWidth":3.8,"opacity":1,"color":"#ff9800"}},
{"data":{"name":"tag"},"mark":{"type":"rect","color":"#0a9c78","cornerRadius":3},"encoding":{"x2":{"field":"t2"},"y2":{"field":"p2"}}},
{"data":{"name":"tagText"},"mark":{"type":"text","color":"#ffffff","fontSize":26,"font":"Roboto"},"encoding":{"text":{"field":"label"}}},
{"data":{"name":"fibText"},"mark":{"type":"text","color":"#ff9800","fontSize":27,"align":"left","font":"Roboto"},"encoding":{"text":{"field":"label"}}},
{"data":{"name":"logo"},"mark":{"type":"point","shape":"diamond","filled":false,"size":80,"strokeWidth":1.5,"opacity":1,"color":"#cfcfcf"}},
{"data":{"name":"mark"},"mark":{"type":"text","color":"#c4c4c4","fontSize":25,"align":"left","font":"Roboto","opacity":0.85},"encoding":{"text":{"field":"label"}}}
]
}
